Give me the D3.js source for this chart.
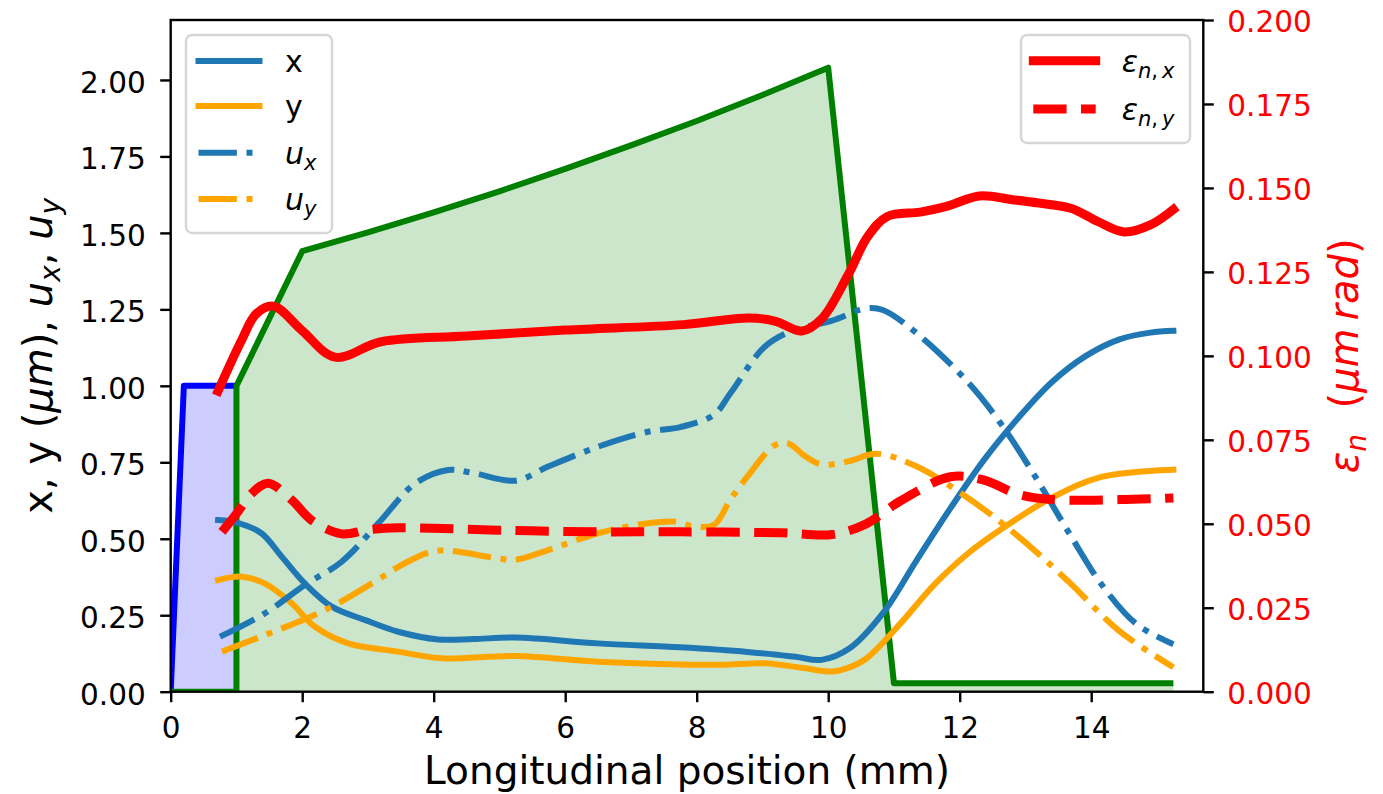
<!DOCTYPE html>
<html>
<head>
<meta charset="utf-8">
<script src="https://cdn.jsdelivr.net/npm/d3@7"></script>
<style>
  body { margin: 0; background: #fff; }
  text { font-family: "DejaVu Sans", sans-serif; }
</style>
</head>
<body>
<div id="chart"></div>
<script>
var svgWidth = 1383;
var svgHeight = 794;

var plot = { left: 170.7, right: 1203.3, top: 20, bottom: 691.7 };

// tick values
var xTicks = [0, 2, 4, 6, 8, 10, 12, 14];
var leftTicks = [0, 0.25, 0.5, 0.75, 1.0, 1.25, 1.5, 1.75, 2.0];
var rightTicks = [0, 0.025, 0.05, 0.075, 0.1, 0.125, 0.15, 0.175, 0.2];

// shaded regions (left axis)
var blueZoneZ = [0, 0.2, 1.0];
var blueZoneV = [0, 1.0, 1.0];
var greenZoneZ = [0, 1, 1, 2, 3, 4, 5, 6, 7, 8, 9, 10, 11, 15.25];
var greenZoneV = [0, 0, 1.0, 1.44, 1.502, 1.567, 1.636, 1.709, 1.786, 1.866, 1.951, 2.04, 0.028, 0.028];

// beam sizes (left axis), [z, value]
var sigmaX = [[0.72,0.561],[1.03,0.551],[1.38,0.518],[1.69,0.441],[2.04,0.354],[2.45,0.278],[2.96,0.234],
  [3.46,0.196],[4.07,0.171],[4.6,0.172],[5.24,0.177],[6.5,0.158],[7.75,0.145],[8.77,0.13],[9.5,0.114],
  [9.9,0.104],[10.32,0.141],[10.83,0.256],[11.34,0.428],[11.86,0.6],[12.37,0.758],[12.89,0.895],
  [13.4,1.012],[13.92,1.098],[14.43,1.152],[14.9,1.174],[15.25,1.18]];
var sigmaY = [[0.72,0.365],[1.08,0.376],[1.43,0.354],[1.84,0.289],[2.19,0.213],[2.7,0.158],[3.46,0.131],
  [4.12,0.109],[5.24,0.117],[6.5,0.098],[7.75,0.089],[8.4,0.088],[9.03,0.093],[9.6,0.078],[10.06,0.066],
  [10.3,0.078],[10.57,0.107],[11.09,0.221],[11.6,0.347],[12.12,0.451],[12.63,0.531],[13.4,0.634],
  [14.17,0.703],[15.25,0.726]];
var uX = [[0.75,0.18],[1.43,0.256],[2.04,0.349],[2.6,0.425],[3.16,0.551],[3.72,0.681],[4.22,0.725],
  [4.6,0.715],[5.24,0.69],[5.74,0.736],[6.5,0.801],[7.26,0.85],[7.75,0.865],[8.26,0.905],[8.52,0.978],
  [9.03,1.127],[9.44,1.179],[10.06,1.213],[10.57,1.253],[10.83,1.248],[11.34,1.173],[12.12,1.013],
  [12.63,0.875],[13.15,0.703],[13.66,0.52],[14.17,0.347],[14.69,0.221],[15.25,0.155]];
var uY = [[0.78,0.131],[1.43,0.185],[2.35,0.267],[3.06,0.354],[3.56,0.42],[3.97,0.458],[4.22,0.461],
  [4.98,0.436],[5.24,0.431],[5.74,0.463],[6.5,0.518],[7.26,0.551],[7.67,0.556],[7.95,0.541],[8.26,0.545],
  [8.51,0.627],[8.77,0.703],[9.19,0.806],[9.39,0.812],[9.65,0.77],[9.9,0.743],[10.32,0.754],[10.73,0.778],
  [11.34,0.737],[12.12,0.634],[12.89,0.508],[13.66,0.359],[14.43,0.198],[15.25,0.08]];

// emittances (right axis), [z, value]
var emitX = [[0.72,0.0895],[1.08,0.1047],[1.3,0.1125],[1.56,0.1148],[2.0,0.1075],[2.5,0.0996],[3.2,0.1042],
  [4.5,0.1059],[6.0,0.1077],[7.8,0.1093],[8.8,0.1113],[9.2,0.1103],[9.6,0.1074],[9.9,0.111],[10.3,0.124],
  [10.6,0.1355],[10.9,0.1415],[11.4,0.1428],[11.8,0.1445],[12.3,0.1476],[12.8,0.1465],[13.2,0.1455],
  [13.7,0.1439],[14.1,0.14],[14.5,0.1369],[14.9,0.139],[15.25,0.1436]];
var emitY = [[0.78,0.0476],[1.0,0.053],[1.23,0.059],[1.48,0.0621],[1.84,0.0571],[2.14,0.0511],[2.6,0.047],
  [3.0,0.0482],[3.46,0.0488],[4.98,0.0481],[6.5,0.0476],[7.75,0.0476],[9.29,0.0473],[10.06,0.0468],
  [10.57,0.0499],[11.09,0.0567],[11.86,0.064],[12.37,0.063],[12.89,0.0588],[13.4,0.0572],[14.43,0.0572],
  [15.25,0.0577]];

var tickFont = 29.5;
var labelFont = 40;
var legendFont = 30;

var svg = d3.select("#chart")
  .append("svg")
  .attr("width", svgWidth)
  .attr("height", svgHeight);

var xScale = d3.scaleLinear().domain([0, 15.705]).range([plot.left, plot.right]);
var yLeft = d3.scaleLinear().domain([0, 2.196]).range([plot.bottom, plot.top]);
var yRight = d3.scaleLinear().domain([0, 0.2]).range([plot.bottom, plot.top]);

svg.append("clipPath").attr("id", "clip")
  .append("rect")
  .attr("x", plot.left).attr("y", plot.top)
  .attr("width", plot.right - plot.left).attr("height", plot.bottom - plot.top);

var chartGroup = svg.append("g").attr("clip-path", "url(#clip)");

// shaded regions
var zoneArea = d3.area()
  .x(d => xScale(d[0]))
  .y0(yLeft(0))
  .y1(d => yLeft(d[1]));
var zoneLine = d3.line()
  .x(d => xScale(d[0]))
  .y(d => yLeft(d[1]));

var greenZone = greenZoneZ.map((z, i) => [z, greenZoneV[i]]);
var blueZone = blueZoneZ.map((z, i) => [z, blueZoneV[i]]);

chartGroup.append("path").datum(greenZone)
  .attr("d", zoneArea).attr("fill", "green").attr("fill-opacity", 0.2);
chartGroup.append("path").datum(blueZone)
  .attr("d", zoneArea).attr("fill", "blue").attr("fill-opacity", 0.2);
chartGroup.append("path").datum(blueZone)
  .attr("d", zoneLine).attr("fill", "none").attr("stroke", "blue")
  .attr("stroke-width", 6).attr("stroke-linejoin", "round");
chartGroup.append("path").datum(greenZone)
  .attr("d", zoneLine).attr("fill", "none").attr("stroke", "green")
  .attr("stroke-width", 6).attr("stroke-linejoin", "round");

// curves
function curveLine(yScale) {
  return d3.line()
    .x(d => xScale(d[0]))
    .y(d => yScale(d[1]))
    .curve(d3.curveCatmullRom.alpha(0.5));
}

var dashDot = "38.4,9.6,6,9.6";
var series = [
  { data: sigmaX, scale: yLeft, color: "#1f77b4", width: 6, dash: null },
  { data: sigmaY, scale: yLeft, color: "orange", width: 6, dash: null },
  { data: uX, scale: yLeft, color: "#1f77b4", width: 6, dash: dashDot },
  { data: uY, scale: yLeft, color: "orange", width: 6, dash: dashDot },
  { data: emitX, scale: yRight, color: "red", width: 9, dash: null },
  { data: emitY, scale: yRight, color: "red", width: 9, dash: "33.3,14.4" }
];

series.forEach(function(s) {
  chartGroup.append("path").datum(s.data)
    .attr("d", curveLine(s.scale))
    .attr("fill", "none")
    .attr("stroke", s.color)
    .attr("stroke-width", s.width)
    .attr("stroke-linejoin", "round")
    .attr("stroke-linecap", s.dash ? "butt" : "square")
    .attr("stroke-dasharray", s.dash);
});

// axes
function styleAxis(g, color) {
  g.select(".domain").remove();
  g.selectAll(".tick line").attr("stroke", "black").attr("stroke-width", 2.4);
  g.selectAll(".tick text")
    .attr("font-family", "DejaVu Sans")
    .attr("font-size", tickFont)
    .attr("fill", color);
}

var xAxis = svg.append("g")
  .attr("transform", `translate(0, ${plot.bottom})`)
  .call(d3.axisBottom(xScale).tickValues(xTicks).tickSize(10.5).tickFormat(d3.format("d")));
styleAxis(xAxis, "black");
xAxis.selectAll(".tick text").attr("y", 46.6).attr("dy", null);

var leftAxis = svg.append("g")
  .attr("transform", `translate(${plot.left}, 0)`)
  .call(d3.axisLeft(yLeft).tickValues(leftTicks).tickSize(10.5).tickFormat(d3.format(".2f")));
styleAxis(leftAxis, "black");
leftAxis.selectAll(".tick text").attr("x", -25).attr("y", 12.3).attr("dy", null);

var rightAxis = svg.append("g")
  .attr("transform", `translate(${plot.right}, 0)`)
  .call(d3.axisRight(yRight).tickValues(rightTicks).tickSize(10.5).tickFormat(d3.format(".3f")));
styleAxis(rightAxis, "red");
rightAxis.selectAll(".tick text").attr("x", 24).attr("y", 11.8).attr("dy", null);

// frame
svg.append("rect")
  .attr("x", plot.left).attr("y", plot.top)
  .attr("width", plot.right - plot.left).attr("height", plot.bottom - plot.top)
  .attr("fill", "none").attr("stroke", "black").attr("stroke-width", 2.4);

// mixed text with italic parts and subscripts
function mathText(textSel, parts, fontSize) {
  var shift = 0.21 * fontSize;
  var down = false;
  parts.forEach(function(p) {
    var ts = textSel.append("tspan").text(p.t);
    if (p.it) ts.attr("font-style", "italic");
    if (p.sub) {
      ts.attr("font-size", fontSize * 0.7);
      if (!down) { ts.attr("dy", shift); down = true; }
    } else if (down) {
      ts.attr("dy", -shift); down = false;
    }
  });
}

// axis labels
svg.append("text")
  .attr("x", (plot.left + plot.right) / 2)
  .attr("y", 784)
  .attr("text-anchor", "middle")
  .attr("font-size", 39)
  .text("Longitudinal position (mm)");

var leftLabel = svg.append("text")
  .attr("transform", `translate(52, ${(plot.top + plot.bottom) / 2}) rotate(-90)`)
  .attr("text-anchor", "middle")
  .attr("font-size", labelFont);
mathText(leftLabel, [
  { t: "x, y (" }, { t: "\u03bcm", it: true }, { t: "), " },
  { t: "u", it: true }, { t: "x", it: true, sub: true }, { t: ", " },
  { t: "u", it: true }, { t: "y", it: true, sub: true }
], labelFont);

var rightLabel = svg.append("text")
  .attr("transform", `translate(1358, ${(plot.top + plot.bottom) / 2}) rotate(-90)`)
  .attr("text-anchor", "middle")
  .attr("font-size", labelFont)
  .attr("fill", "red");
mathText(rightLabel, [
  { t: "\u03b5", it: true }, { t: "n", it: true, sub: true },
  { t: "\u00a0\u00a0(" }, { t: "\u03bcm", it: true }, { t: "\u2009" },
  { t: "rad", it: true }, { t: ")" }
], labelFont);

// legends
function drawLegend(box, entries, x0, x1, textX) {
  var lg = svg.append("g");
  lg.append("rect")
    .attr("x", box[0]).attr("y", box[1])
    .attr("width", box[2] - box[0]).attr("height", box[3] - box[1])
    .attr("rx", 6)
    .attr("fill", "white").attr("fill-opacity", 0.8)
    .attr("stroke", "#d6d6d6").attr("stroke-width", 2.4);
  entries.forEach(function(e) {
    lg.append("line")
      .attr("x1", x0).attr("x2", x1).attr("y1", e.y).attr("y2", e.y)
      .attr("stroke", e.color).attr("stroke-width", e.width)
      .attr("stroke-linecap", e.dash ? "butt" : "square")
      .attr("stroke-dasharray", e.dash);
    var t = lg.append("text")
      .attr("x", textX).attr("y", e.y + 11)
      .attr("font-size", legendFont);
    mathText(t, e.label, legendFont);
  });
}

drawLegend([186, 35, 332, 233], [
  { y: 61, color: "#1f77b4", width: 6, dash: null, label: [{ t: "x" }] },
  { y: 106, color: "orange", width: 6, dash: null, label: [{ t: "y" }] },
  { y: 152.7, color: "#1f77b4", width: 6, dash: dashDot, label: [{ t: "u", it: true }, { t: "x", it: true, sub: true }] },
  { y: 199, color: "orange", width: 6, dash: dashDot, label: [{ t: "u", it: true }, { t: "y", it: true, sub: true }] }
], 198.5, 259.5, 285);

drawLegend([1021, 35, 1190, 143], [
  { y: 60.7, color: "red", width: 9, dash: null,
    label: [{ t: "\u03b5", it: true }, { t: "n", it: true, sub: true }, { t: ",\u2009", sub: true }, { t: "x", it: true, sub: true }] },
  { y: 109, color: "red", width: 9, dash: "33.3,14.4",
    label: [{ t: "\u03b5", it: true }, { t: "n", it: true, sub: true }, { t: ",\u2009", sub: true }, { t: "y", it: true, sub: true }] }
], 1033.3, 1095.7, 1121.7);
</script>
</body>
</html>
